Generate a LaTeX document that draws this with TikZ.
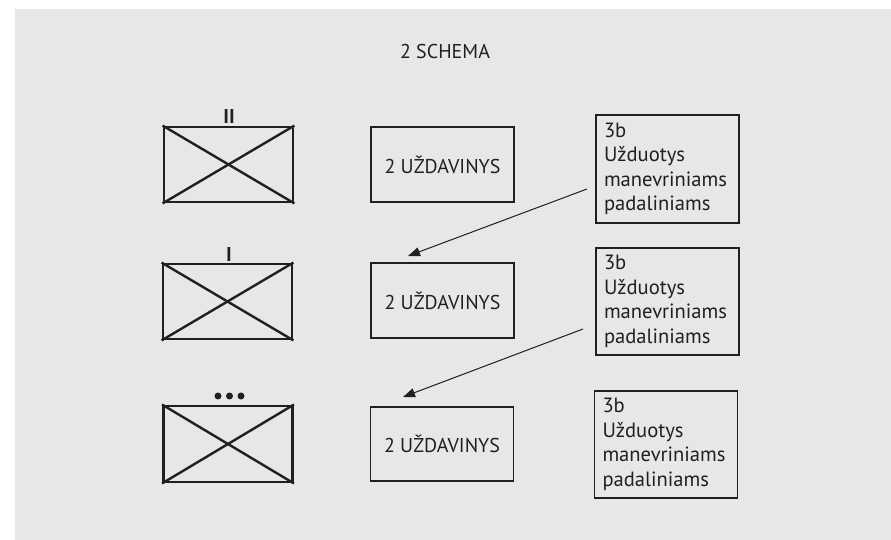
\documentclass[tikz,border=0pt]{standalone}
\usepackage{fontspec}
\setmainfont{PT Sans}
\usetikzlibrary{arrows.meta}
\definecolor{bggray}{HTML}{E6E7E8}
\definecolor{ink}{HTML}{231F20}
\tikzset{
  unitbox/.style={draw=ink, line width=2.8pt, minimum width=129pt, minimum height=75pt, inner sep=0pt},
  taskbox/.style={draw=ink, line width=1.4pt, minimum width=143pt, minimum height=75pt, inner sep=0pt, font=\fontsize{20}{24}\selectfont, text=ink},
  notebox/.style={draw=ink, line width=1.4pt, minimum width=143pt, minimum height=107pt, inner xsep=8pt, inner ysep=0pt, text width=127pt, align=left, font=\fontsize{20.6}{24.5}\selectfont, text=ink},
  lbl/.style={font=\fontsize{20}{24}\selectfont, text=ink, inner sep=0pt},
  numlbl/.style={font=\fontsize{20}{24}\selectfont\bfseries, text=ink, inner sep=0pt},
  xline/.style={draw=ink, line width=2.4pt},
  conn/.style={draw=ink, line width=1pt, -{Triangle[length=12pt,width=9pt]}},
  dot/.style={circle, fill=ink, minimum size=7pt, inner sep=0pt}
}
\begin{document}
\begin{tikzpicture}[x=1pt,y=-1pt]
\useasboundingbox (0,0) rectangle (891,540);
\fill[bggray] (15,9) rectangle (891,540);

\node[lbl] (title) at (445,52) {2 SCHEMA};

% unit symbols
\node[unitbox] (u1) at (228.5,164.5) {};
\node[unitbox] (u2) at (227.5,301.5) {};
\node[unitbox, minimum height=76pt] (u3) at (228,444) {};
\foreach \u in {u1,u2,u3}{
  \draw[xline] (\u.north west) -- (\u.south east);
  \draw[xline] (\u.south west) -- (\u.north east);
}
\node[numlbl] (l1) at (229,117) {II};
\node[numlbl] (l2) at (229,254) {I};
\node[dot] (d1) at (218,396) {};
\node[dot] (d2) at (229.5,396) {};
\node[dot] (d3) at (241,396) {};

% task boxes
\node[taskbox] (t1) at (442.5,164.5) {2 UŽDAVINYS};
\node[taskbox] (t2) at (442.5,300.5) {2 UŽDAVINYS};
\node[taskbox, minimum height=74pt] (t3) at (442,444) {2 UŽDAVINYS};

% note boxes
\node[notebox, minimum height=108pt] (n1) at (667.5,169) {3b\\Užduotys\\manevriniams\\padaliniams};
\node[notebox] (n2) at (667.5,301.5) {3b\\Užduotys\\manevriniams\\padaliniams};
\node[notebox] (n3) at (666,444.5) {3b\\Užduotys\\manevriniams\\padaliniams};

% connectors
\coordinate (s1) at (587,189);
\coordinate (e1) at (408,256);
\coordinate (s2) at (583,329);
\coordinate (e2) at (403,397);
\draw[conn] (s1) -- (e1);
\draw[conn] (s2) -- (e2);
\end{tikzpicture}
\end{document}
